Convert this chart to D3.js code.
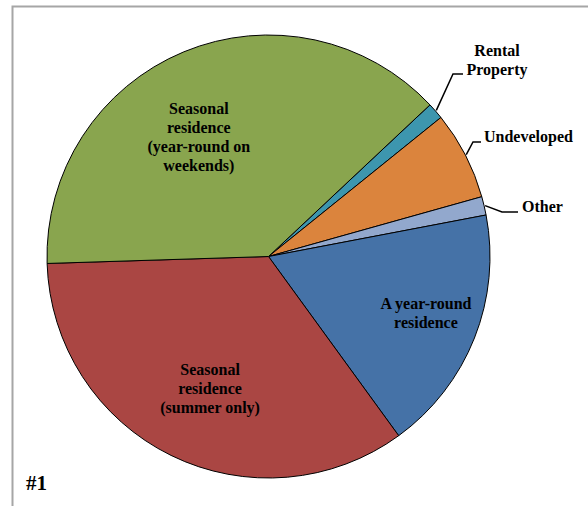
<!DOCTYPE html>
<html>
<head>
<meta charset="utf-8">
<script src="https://cdn.jsdelivr.net/npm/d3@7"></script>
<style>
body { margin:0; background:#fff; }
svg text { font-family: "Liberation Serif", "Times New Roman", serif; font-weight: bold; fill:#000; }
</style>
</head>
<body>
<svg id="drawarea"></svg>
<script>
// slice order follows the chart clockwise from the Rental slice
var categories = ["Rental Property", "Undeveloped", "Other", "A year-round residence",
    "Seasonal residence (summer only)", "Seasonal residence (year-round on weekends)"];
var shares = [1.2, 6.45, 1.35, 18.0, 34.5, 38.5];
var colors = ["#3D96AE", "#DB843D", "#92A8CD", "#4572A7", "#AA4643", "#89A54E"];
var labelLines = [
    ["Rental", "Property"],
    ["Undeveloped"],
    ["Other"],
    ["A year-round", "residence"],
    ["Seasonal", "residence", "(summer only)"],
    ["Seasonal", "residence", "(year-round on", "weekends)"]
];

function init(){
    var width = 588, height = 506;
    var cx = 268.5, cy = 256.5, radius = 221.5;
    var startDeg = 46.8;

    var svg = d3.select("#drawarea").attr("width", width).attr("height", height);

    // chart area frame
    svg.append("rect")
        .attr("x", 12.5).attr("y", 6.5)
        .attr("width", 600).attr("height", 520)
        .attr("fill", "none")
        .attr("stroke", "#a6a6a6")
        .attr("stroke-width", 2);

    var pie = d3.pie().sort(null).value(function(d){ return d; })
        .startAngle(startDeg * Math.PI / 180)
        .endAngle(startDeg * Math.PI / 180 + 2 * Math.PI);
    var arcs = pie(shares);
    var arc = d3.arc().innerRadius(0).outerRadius(radius);

    var g = svg.append("g").attr("transform", "translate(" + cx + "," + cy + ")");
    g.selectAll("path")
        .data(arcs)
        .enter().append("path")
        .attr("d", arc)
        .attr("fill", function(d,i){ return colors[i]; })
        .attr("stroke", "#000")
        .attr("stroke-width", 1);

    var lineH = 19, fs = 16;

    // inside labels: [fraction of radius, angle in degrees]
    var inside = {3: [0.755, 109.7], 4: [0.654, 203.8], 5: [0.625, 329.8]};
    Object.keys(inside).forEach(function(k){
        var i = +k;
        var p = inside[k];
        var a = p[1] * Math.PI / 180;
        var x = Math.sin(a) * radius * p[0];
        var y = -Math.cos(a) * radius * p[0];
        var lines = labelLines[i];
        var t = g.append("text")
            .attr("text-anchor", "middle")
            .attr("font-size", fs);
        lines.forEach(function(s, j){
            t.append("tspan")
                .attr("x", x)
                .attr("y", y + (j - (lines.length - 1) / 2) * lineH + fs * 0.33)
                .text(s);
        });
    });

    // outside labels with leader lines
    var outside = [
        {i:0, bend:[453, 74], end:[463, 74], text:[497, 50.5], anchor:"middle"},
        {i:1, bend:[473, 142], end:[481, 142], text:[484, 137], anchor:"start"},
        {i:2, bend:[502, 212], end:[518, 212], text:[522, 207], anchor:"start"}
    ];
    outside.forEach(function(o){
        var d = arcs[o.i];
        var mid = (d.startAngle + d.endAngle) / 2;
        var sx = cx + Math.sin(mid) * (radius + 1);
        var sy = cy - Math.cos(mid) * (radius + 1);
        svg.append("polyline")
            .attr("points", [[sx, sy], o.bend, o.end].map(function(p){ return p.join(","); }).join(" "))
            .attr("fill", "none")
            .attr("stroke", "#000")
            .attr("stroke-width", 1.5);
        var t = svg.append("text")
            .attr("text-anchor", o.anchor)
            .attr("font-size", fs);
        labelLines[o.i].forEach(function(s, j){
            t.append("tspan")
                .attr("x", o.text[0])
                .attr("y", o.text[1] + j * 19.5 + fs * 0.33)
                .text(s);
        });
    });

    svg.append("text")
        .attr("x", 26).attr("y", 490)
        .attr("font-size", 21)
        .text("#1");
}

init();
</script>
</body>
</html>
